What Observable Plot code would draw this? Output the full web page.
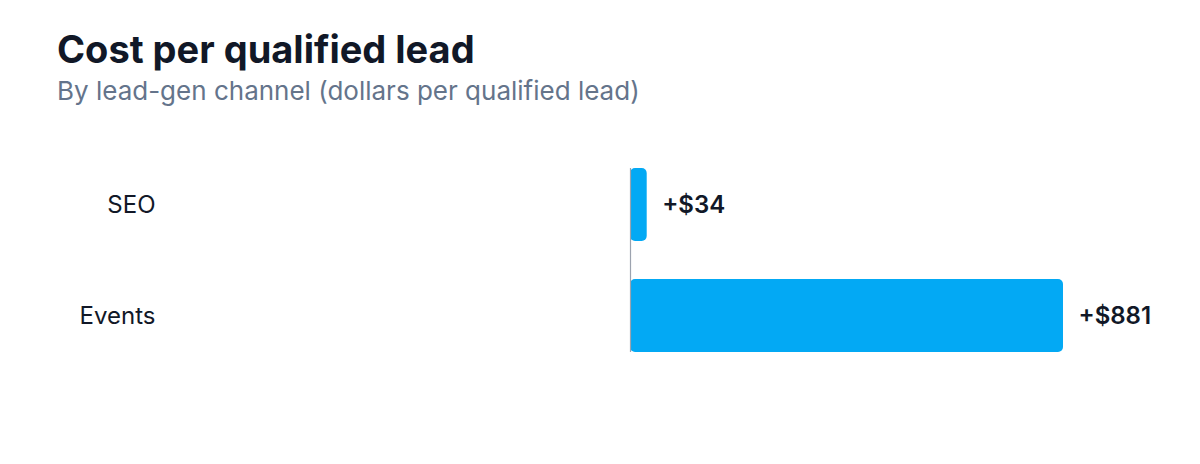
<!DOCTYPE html>
<html>
<head>
<meta charset="utf-8">
<script src="https://cdn.jsdelivr.net/npm/d3@7"></script>
<script src="https://cdn.jsdelivr.net/npm/@observablehq/plot@0.6"></script>
<style>
  html, body { margin: 0; padding: 0; background: #ffffff; }
  body { font-family: Inter, "Noto Sans", sans-serif; width: 1200px; height: 464px; overflow: hidden; }
  #head { padding: 26px 0 0 57px; height: 79.5px; }
  #title { font-size: 38px; font-weight: 700; color: #111827; line-height: 46px; margin: 0; white-space: nowrap; }
  #subtitle { font-size: 26px; font-weight: 400; color: #64748b; line-height: 32px; margin: 3px 0 0 0; white-space: nowrap; }
  #chart svg { display: block; }
</style>
</head>
<body>
<div id="head">
  <div id="title">Cost per qualified lead</div>
  <div id="subtitle">By lead-gen channel (dollars per qualified lead)</div>
</div>
<div id="chart"></div>
<script>
const channels = ["SEO", "Events"];
const costs = [34, 881];

const data = channels.map((c, i) => ({channel: c, cost: costs[i]}));
const maxAbs = d3.max(costs);

const chart = Plot.plot({
  width: 1200,
  height: 358,
  marginTop: 62,
  marginBottom: 112,
  marginLeft: 197,
  marginRight: 137,
  style: {fontFamily: "Inter, 'Noto Sans', sans-serif", background: "#ffffff"},
  x: {domain: [-maxAbs, maxAbs], axis: null},
  y: {domain: channels, paddingInner: 0.345, paddingOuter: 0, label: null},
  marks: [
    Plot.barX(data, {y: "channel", x: "cost", fill: "#03a9f4", rx: 5}),
    Plot.ruleX([0], {stroke: "#9ca3af", strokeWidth: 1.2}),
    Plot.text(data, {y: "channel", x: "cost", text: d => "+$" + d.cost, dx: 15, textAnchor: "start", fontSize: 24, fontWeight: 600, fill: "#111827"}),
    Plot.axisY({tickSize: 0, tickPadding: 42, fontSize: 24, color: "#111827", label: null})
  ]
});
document.getElementById("chart").appendChild(chart);
</script>
</body>
</html>
